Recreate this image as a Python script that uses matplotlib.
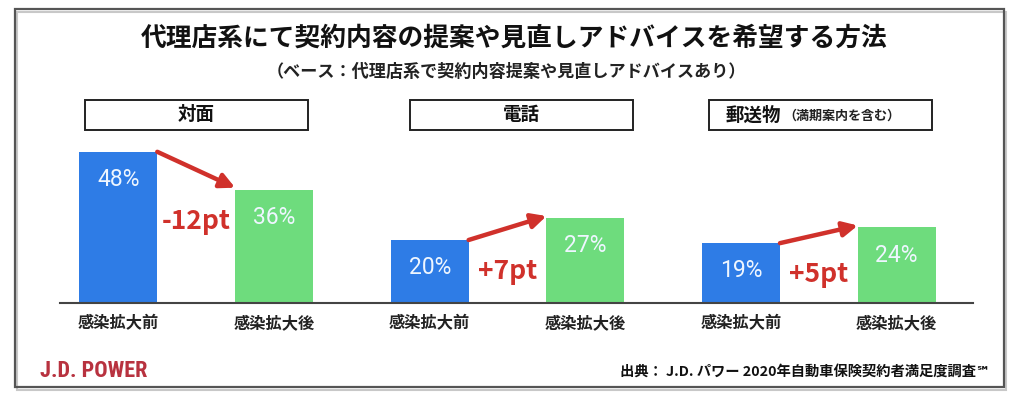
import matplotlib
matplotlib.use("Agg")
import matplotlib.pyplot as plt
from matplotlib.patches import Rectangle

# ---- data ----
channels = ["対面", "電話", "郵送物"]
channel_notes = ["", "", "（満期案内を含む）"]
periods = ["感染拡大前", "感染拡大後"]
before = [48, 20, 19]
after = [36, 27, 24]

title = "代理店系にて契約内容の提案や見直しアドバイスを希望する方法"
subtitle = "（ベース：代理店系で契約内容提案や見直しアドバイスあり）"
source = "出典： J.D. パワー 2020年自動車保険契約者満足度調査℠"
brand = "J.D. POWER"

# ---- style ----
W, H = 1024, 397
JP = ["Noto Sans CJK JP", "DejaVu Sans"]
BLUE = "#2e7ce6"
GREEN = "#6edc7d"
RED = "#d0312b"
BRAND_RED = "#b8323f"

fig = plt.figure(figsize=(W / 100, H / 100), dpi=100)
fig.patch.set_facecolor("white")

def fx(px):
    return px / W

def fy(py):
    return 1 - py / H

# frame with light shadow
fig.add_artist(Rectangle((fx(17), fy(390)), fx(989), 378 / H, transform=fig.transFigure,
                         fill=False, ec="#c8c8c8", lw=1.5))
fig.add_artist(Rectangle((fx(15), fy(387)), fx(989), 378 / H, transform=fig.transFigure,
                         fill=False, ec="#555555", lw=1.6))

# titles
fig.text(fx(514), fy(38), title, ha="center", va="center", fontsize=18.5,
         fontweight="bold", family=JP, color="#111111")
fig.text(fx(506), fy(72), subtitle, ha="center", va="center", fontsize=12.3,
         fontweight="bold", family=JP, color="#222222")

# main axes
ax = fig.add_axes([fx(60), fy(303), fx(973) - fx(60), (303 - 114) / H])
group_gap = 4
xb = [g * group_gap - 1 for g in range(len(channels))]
xa = [g * group_gap + 1 for g in range(len(channels))]
ax.bar(xb, before, width=1.0, color=BLUE)
ax.bar(xa, after, width=1.0, color=GREEN)
ax.set_xlim(-1.75, 9.98)
ax.set_ylim(0, 60)

for s in ["top", "right", "left"]:
    ax.spines[s].set_visible(False)
ax.spines["bottom"].set_color("#444444")
ax.spines["bottom"].set_linewidth(1.5)
ax.set_yticks([])
ticks = []
labels = []
for b, a in zip(xb, xa):
    ticks += [b, a]
    labels += periods
ax.set_xticks(ticks)
ax.set_xticklabels(labels, family=JP, fontsize=11.7, fontweight="bold", color="#222222")
ax.tick_params(axis="x", length=0, pad=9)

# value labels
for x, v in list(zip(xb, before)) + list(zip(xa, after)):
    ax.annotate(f"{v}%", (x, v), xytext=(0, -20), textcoords="offset points",
                ha="center", va="center", fontsize=16.5, family=["Roboto", "DejaVu Sans"],
                color="#eef6ff")

# arrows and delta labels
for g, (b, a) in enumerate(zip(before, after)):
    ax.annotate("", xy=(xa[g] - 0.5, a + 0.6), xytext=(xb[g] + 0.5, b),
                arrowprops=dict(arrowstyle="-|>", color=RED, lw=3.2, mutation_scale=22,
                                shrinkA=0, shrinkB=0))
    d = a - b
    txt = f"{'+' if d > 0 else '-'}{abs(d)}pt"
    ax.text(g * group_gap, min(a, b) - 10, txt, ha="center", va="center",
            fontsize=19, fontweight="bold", family=JP, color=RED)

# header boxes
box_centers = [196.5, 521, 820]
for c, name, note in zip(box_centers, channels, channel_notes):
    fig.add_artist(Rectangle((fx(c - 111.5), fy(130)), fx(223), 30 / H,
                             transform=fig.transFigure, fill=False, ec="#222222", lw=1.4))
    if note:
        fig.text(fx(726), fy(115), name, ha="left", va="center", fontsize=13.3,
                 fontweight="bold", family=JP, color="#111111")
        fig.text(fx(783), fy(116), note, ha="left", va="center", fontsize=9.4,
                 fontweight="bold", family=JP, color="#222222")
    else:
        fig.text(fx(c), fy(115), name, ha="center", va="center", fontsize=13.3,
                 fontweight="bold", family=JP, color="#111111")

# footer
fig.text(fx(40), fy(371), brand, ha="left", va="center", fontsize=16,
         fontweight="bold", family=["Roboto Condensed", "Roboto", "DejaVu Sans"],
         color=BRAND_RED)
fig.text(fx(990), fy(372), source, ha="right", va="center", fontsize=10.3,
         fontweight="bold", family=JP, color="#111111")

fig.savefig("out.png", dpi=100, facecolor="white")
